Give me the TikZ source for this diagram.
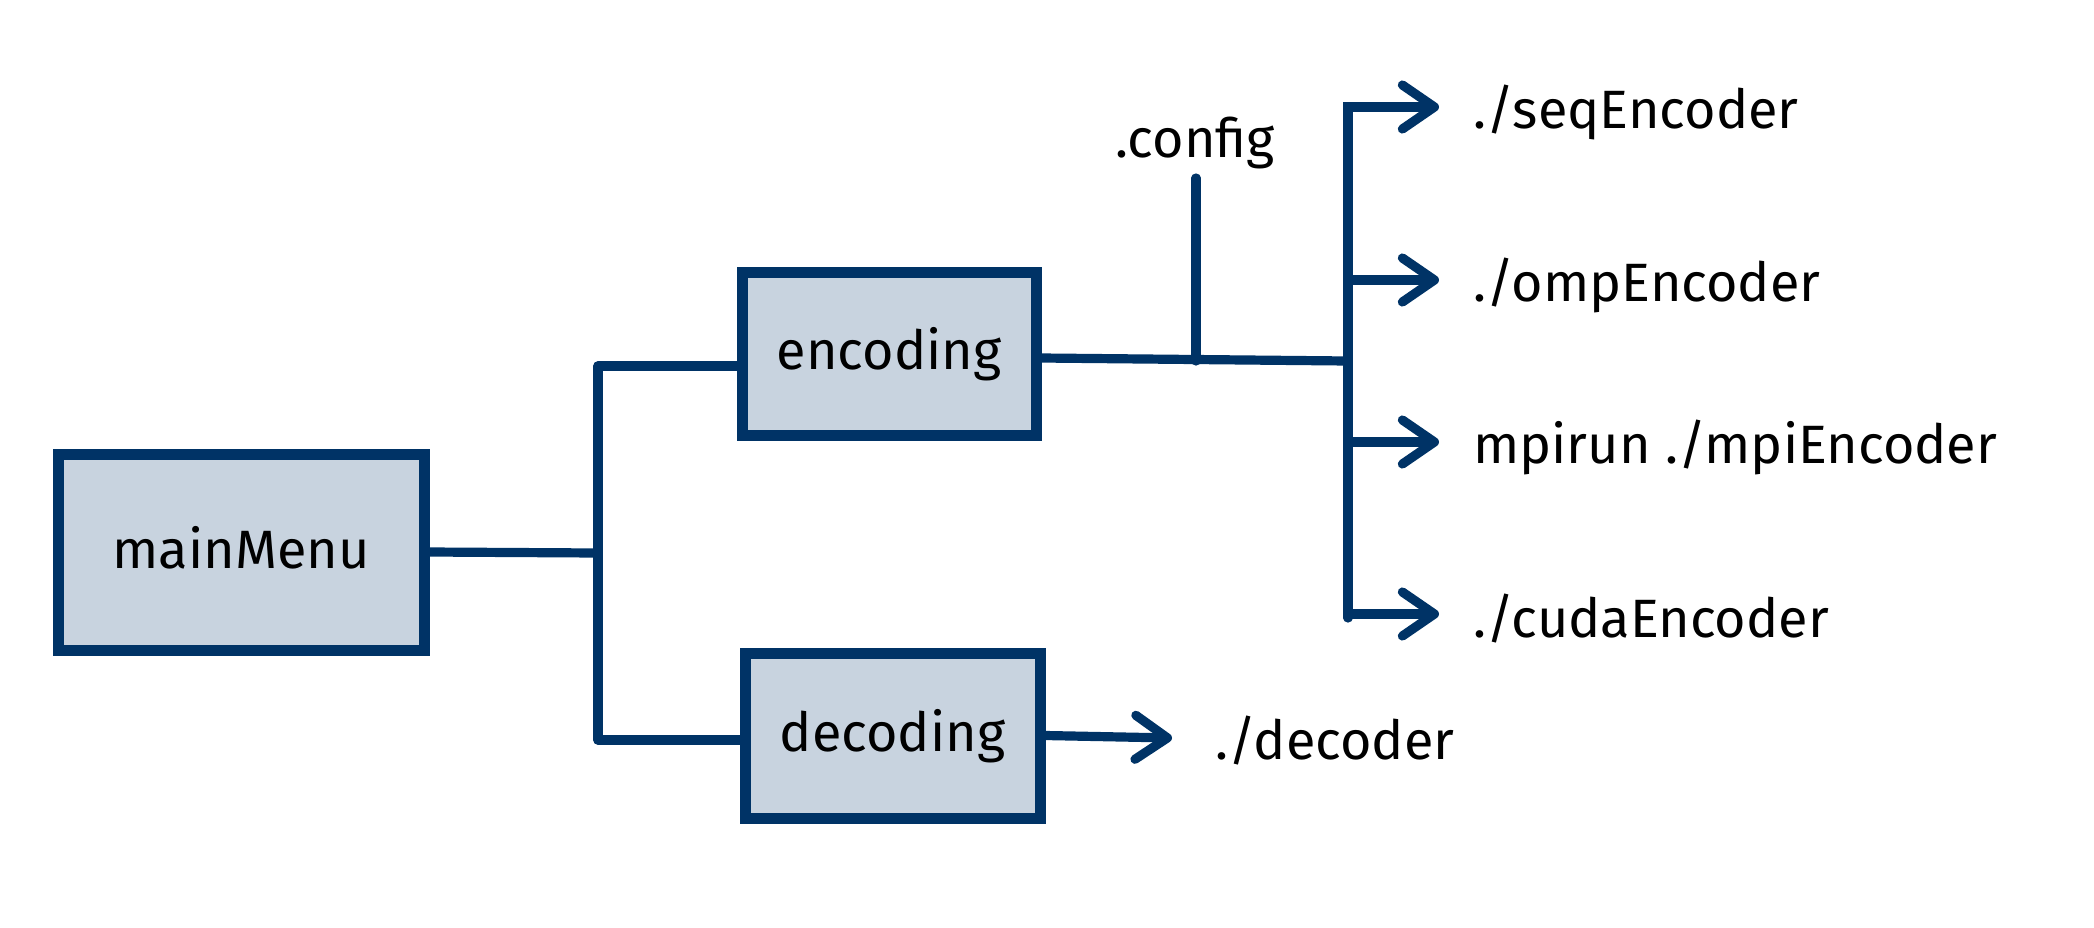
\documentclass[tikz,border=0pt]{standalone}
\usepackage{fontspec}
\setmainfont{Fira Sans}
\usetikzlibrary{arrows.meta}
\definecolor{navy}{HTML}{003366}
\definecolor{boxfill}{HTML}{C8D3DF}
\begin{document}
\begin{tikzpicture}[x=0.5pt,y=-0.5pt,
  box/.style={draw=navy, line width=5.5pt, fill=boxfill, font=\fontsize{27}{32}\selectfont,
    text height=22.4pt, text depth=6.2pt, inner sep=0pt},
  conn/.style={draw=navy, line width=4.6pt, line join=round},
  arr/.style={conn, -{Straight Barb[length=16pt,width=22pt,round]}},
  lbl/.style={font=\fontsize{27}{32}\selectfont, anchor=base west, inner sep=0pt}]
\useasboundingbox (0,0) rectangle (2094,927);
% boxes
\node[box, minimum width=183pt, minimum height=98pt] (mm) at (241,552) {mainMenu};
\node[box, minimum width=147pt, minimum height=81.5pt] (enc) at (889,353.5) {encoding};
\node[box, minimum width=147.5pt, minimum height=82.5pt] (dec) at (892.5,735.5) {decoding};
% labels
\node[lbl, anchor=base] (cfg) at (1195,157) {.config};
\node[lbl] (l1) at (1473,128) {./seqEncoder};
\node[lbl] (l2) at (1473,301) {./ompEncoder};
\node[lbl] (l3) at (1473,463) {mpirun ./mpiEncoder};
\node[lbl] (l4) at (1473,637) {./cudaEncoder};
\node[lbl] (ld) at (1215,759) {./decoder};
% coordinates
\coordinate (j)  at (598,553);
\coordinate (jt) at (598,366);
\coordinate (jb) at (598,740);
\coordinate (bj) at (1348,361);
\coordinate (cf) at (1196,178);
\coordinate (b1) at (1348,107);
\coordinate (b2) at (1348,280);
\coordinate (b3) at (1348,442);
\coordinate (b4) at (1348,614);
\coordinate (bb) at (1348,618);
\coordinate (t1) at (1439,107);
\coordinate (t2) at (1439,280);
\coordinate (t3) at (1439,442);
\coordinate (t4) at (1439,614);
\coordinate (td) at (1172,738);
% connectors
\draw[conn] (mm.east) -- (j);
\draw[conn] (enc.west |- jt) -- (jt) -- (jb) -- (dec.west |- jb);
\draw[conn] ([yshift=-2.25pt]enc.east) -- (bj);
\draw[conn, line cap=round] (cf) -- (cf |- bj);
\draw[arr, line cap=round, line join=miter] (bb) -- (b1) -- (t1);
\draw[arr] (b2) -- (t2);
\draw[arr] (b3) -- (t3);
\draw[arr] (b4) -- (t4);
\draw[arr] (dec.east) -- (td);
\end{tikzpicture}
\end{document}
